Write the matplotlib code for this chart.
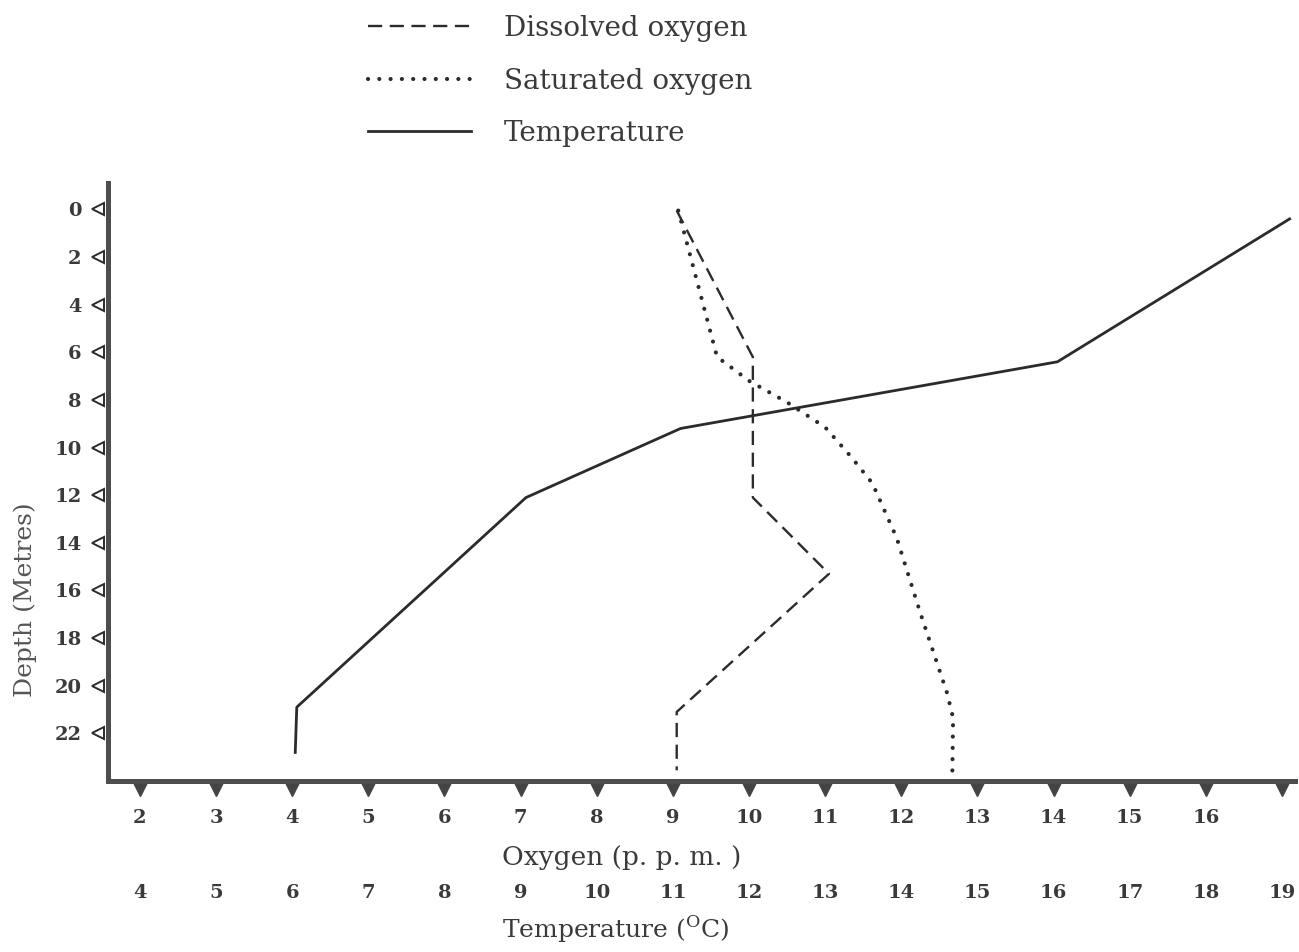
import numpy as np
import matplotlib.pyplot as plt
from matplotlib.lines import Line2D
from matplotlib.transforms import blended_transform_factory

# depth profiles (metres) with oxygen in p.p.m. and temperature in deg C
do_depth = [0.05, 6.2, 12.1, 15.3, 21.1, 23.55]
do_ppm = [9.05, 10.05, 10.05, 11.05, 9.05, 9.05]

sat_depth = [0.05, 1.85, 4.75, 6.2, 6.5, 7.2, 8.1, 9.15, 10.35, 11.5, 13.8, 16.95, 20.3, 21.35, 23.65]
sat_ppm = [9.07, 9.22, 9.46, 9.58, 9.71, 10.0, 10.5, 11.0, 11.33, 11.62, 11.94, 12.25, 12.6, 12.68, 12.67]

temp_depth = [0.4, 6.4, 9.2, 12.1, 20.9, 22.8]
temp_c = [19.1, 16.05, 11.1, 9.07, 6.06, 6.04]

depth_ticks = list(range(0, 23, 2))
oxygen_ticks = list(range(2, 18))
oxygen_labels = [str(v) for v in range(2, 17)] + [""]
temp_ticks = list(range(4, 20))

# temperature scale sits 2 units above the oxygen scale
TEMP_SHIFT = 2

ink = "#2b2b2b"
axis_ink = "#4d4d4d"
text_ink = "#3a3a3a"

plt.rcParams["font.family"] = ["DejaVu Serif"]

fig = plt.figure(figsize=(12.99, 9.52), dpi=100)
ax = fig.add_axes([0.0831, 0.1796, 0.9138, 0.628])

dash_style = (0, (6, 3.2))
dot_style = (0, (0.01, 2.7))

l_do, = ax.plot(do_ppm, do_depth, color=ink, lw=1.7, linestyle=dash_style)
l_sat, = ax.plot(sat_ppm, sat_depth, color=ink, lw=3.0, linestyle=dot_style,
                 dash_capstyle="round")
l_temp, = ax.plot(np.array(temp_c) - TEMP_SHIFT, temp_depth, color=ink, lw=2.0)

ax.set_xlim(1.58, 17.17)
ax.set_ylim(24.0, -1.1)

for side in ("top", "right"):
    ax.spines[side].set_visible(False)
for side in ("left", "bottom"):
    ax.spines[side].set_linewidth(3.6)
    ax.spines[side].set_color(axis_ink)

# depth ticks: open triangles left of the axis
ax.set_yticks(depth_ticks)
ax.set_yticklabels([str(d) for d in depth_ticks], fontsize=14, fontweight="bold",
                   color=text_ink)
ax.tick_params(axis="y", length=0, pad=19)
ytrans = blended_transform_factory(ax.transAxes, ax.transData)
ax.plot([-0.0085] * len(depth_ticks), depth_ticks, transform=ytrans, clip_on=False,
        linestyle="none", marker="<", markersize=9, markerfacecolor="white",
        markeredgecolor=ink, markeredgewidth=1.4)

# oxygen ticks: filled triangles below the axis
ax.set_xticks(oxygen_ticks)
ax.set_xticklabels(oxygen_labels, fontsize=14, fontweight="bold", color=text_ink)
ax.tick_params(axis="x", length=0, pad=20)
xtrans = blended_transform_factory(ax.transData, ax.transAxes)
ax.plot(oxygen_ticks, [-0.013] * len(oxygen_ticks), transform=xtrans, clip_on=False,
        linestyle="none", marker="v", markersize=10, color="#444444")

# second row of labels for temperature
sec = ax.secondary_xaxis(-0.172, functions=(lambda o: o + TEMP_SHIFT,
                                            lambda t: t - TEMP_SHIFT))
sec.set_xticks(temp_ticks)
sec.set_xticklabels([str(t) for t in temp_ticks], fontsize=14, fontweight="bold",
                    color=text_ink)
sec.tick_params(axis="x", length=0, pad=0)
sec.spines["bottom"].set_visible(False)

fig.text(622 / 1299, 1 - 857 / 952, "Oxygen (p. p. m. )", fontsize=19,
         color=text_ink, ha="center", va="center")
fig.text(616 / 1299, 1 - 929 / 952, r"Temperature ($^\mathregular{O}$C)", fontsize=18,
         color=text_ink, ha="center", va="center")
fig.text(25 / 1299, 1 - 600 / 952, "Depth (Metres)", fontsize=18, color="#555555",
         rotation=90, ha="center", va="center")

handles = [
    Line2D([], [], color=ink, lw=1.7, linestyle=dash_style),
    Line2D([], [], color=ink, lw=3.0, linestyle=dot_style, dash_capstyle="round"),
    Line2D([], [], color=ink, lw=2.0),
]
fig.legend(handles, ["Dissolved oxygen", "Saturated oxygen", "Temperature"],
           loc="upper left", bbox_to_anchor=(368 / 1299, 1 - 15 / 952),
           frameon=False, fontsize=20, handlelength=3.7, handletextpad=1.2,
           labelspacing=0.92, borderpad=0, borderaxespad=0, labelcolor=text_ink)

fig.savefig("out.png", dpi=100, facecolor="white")
